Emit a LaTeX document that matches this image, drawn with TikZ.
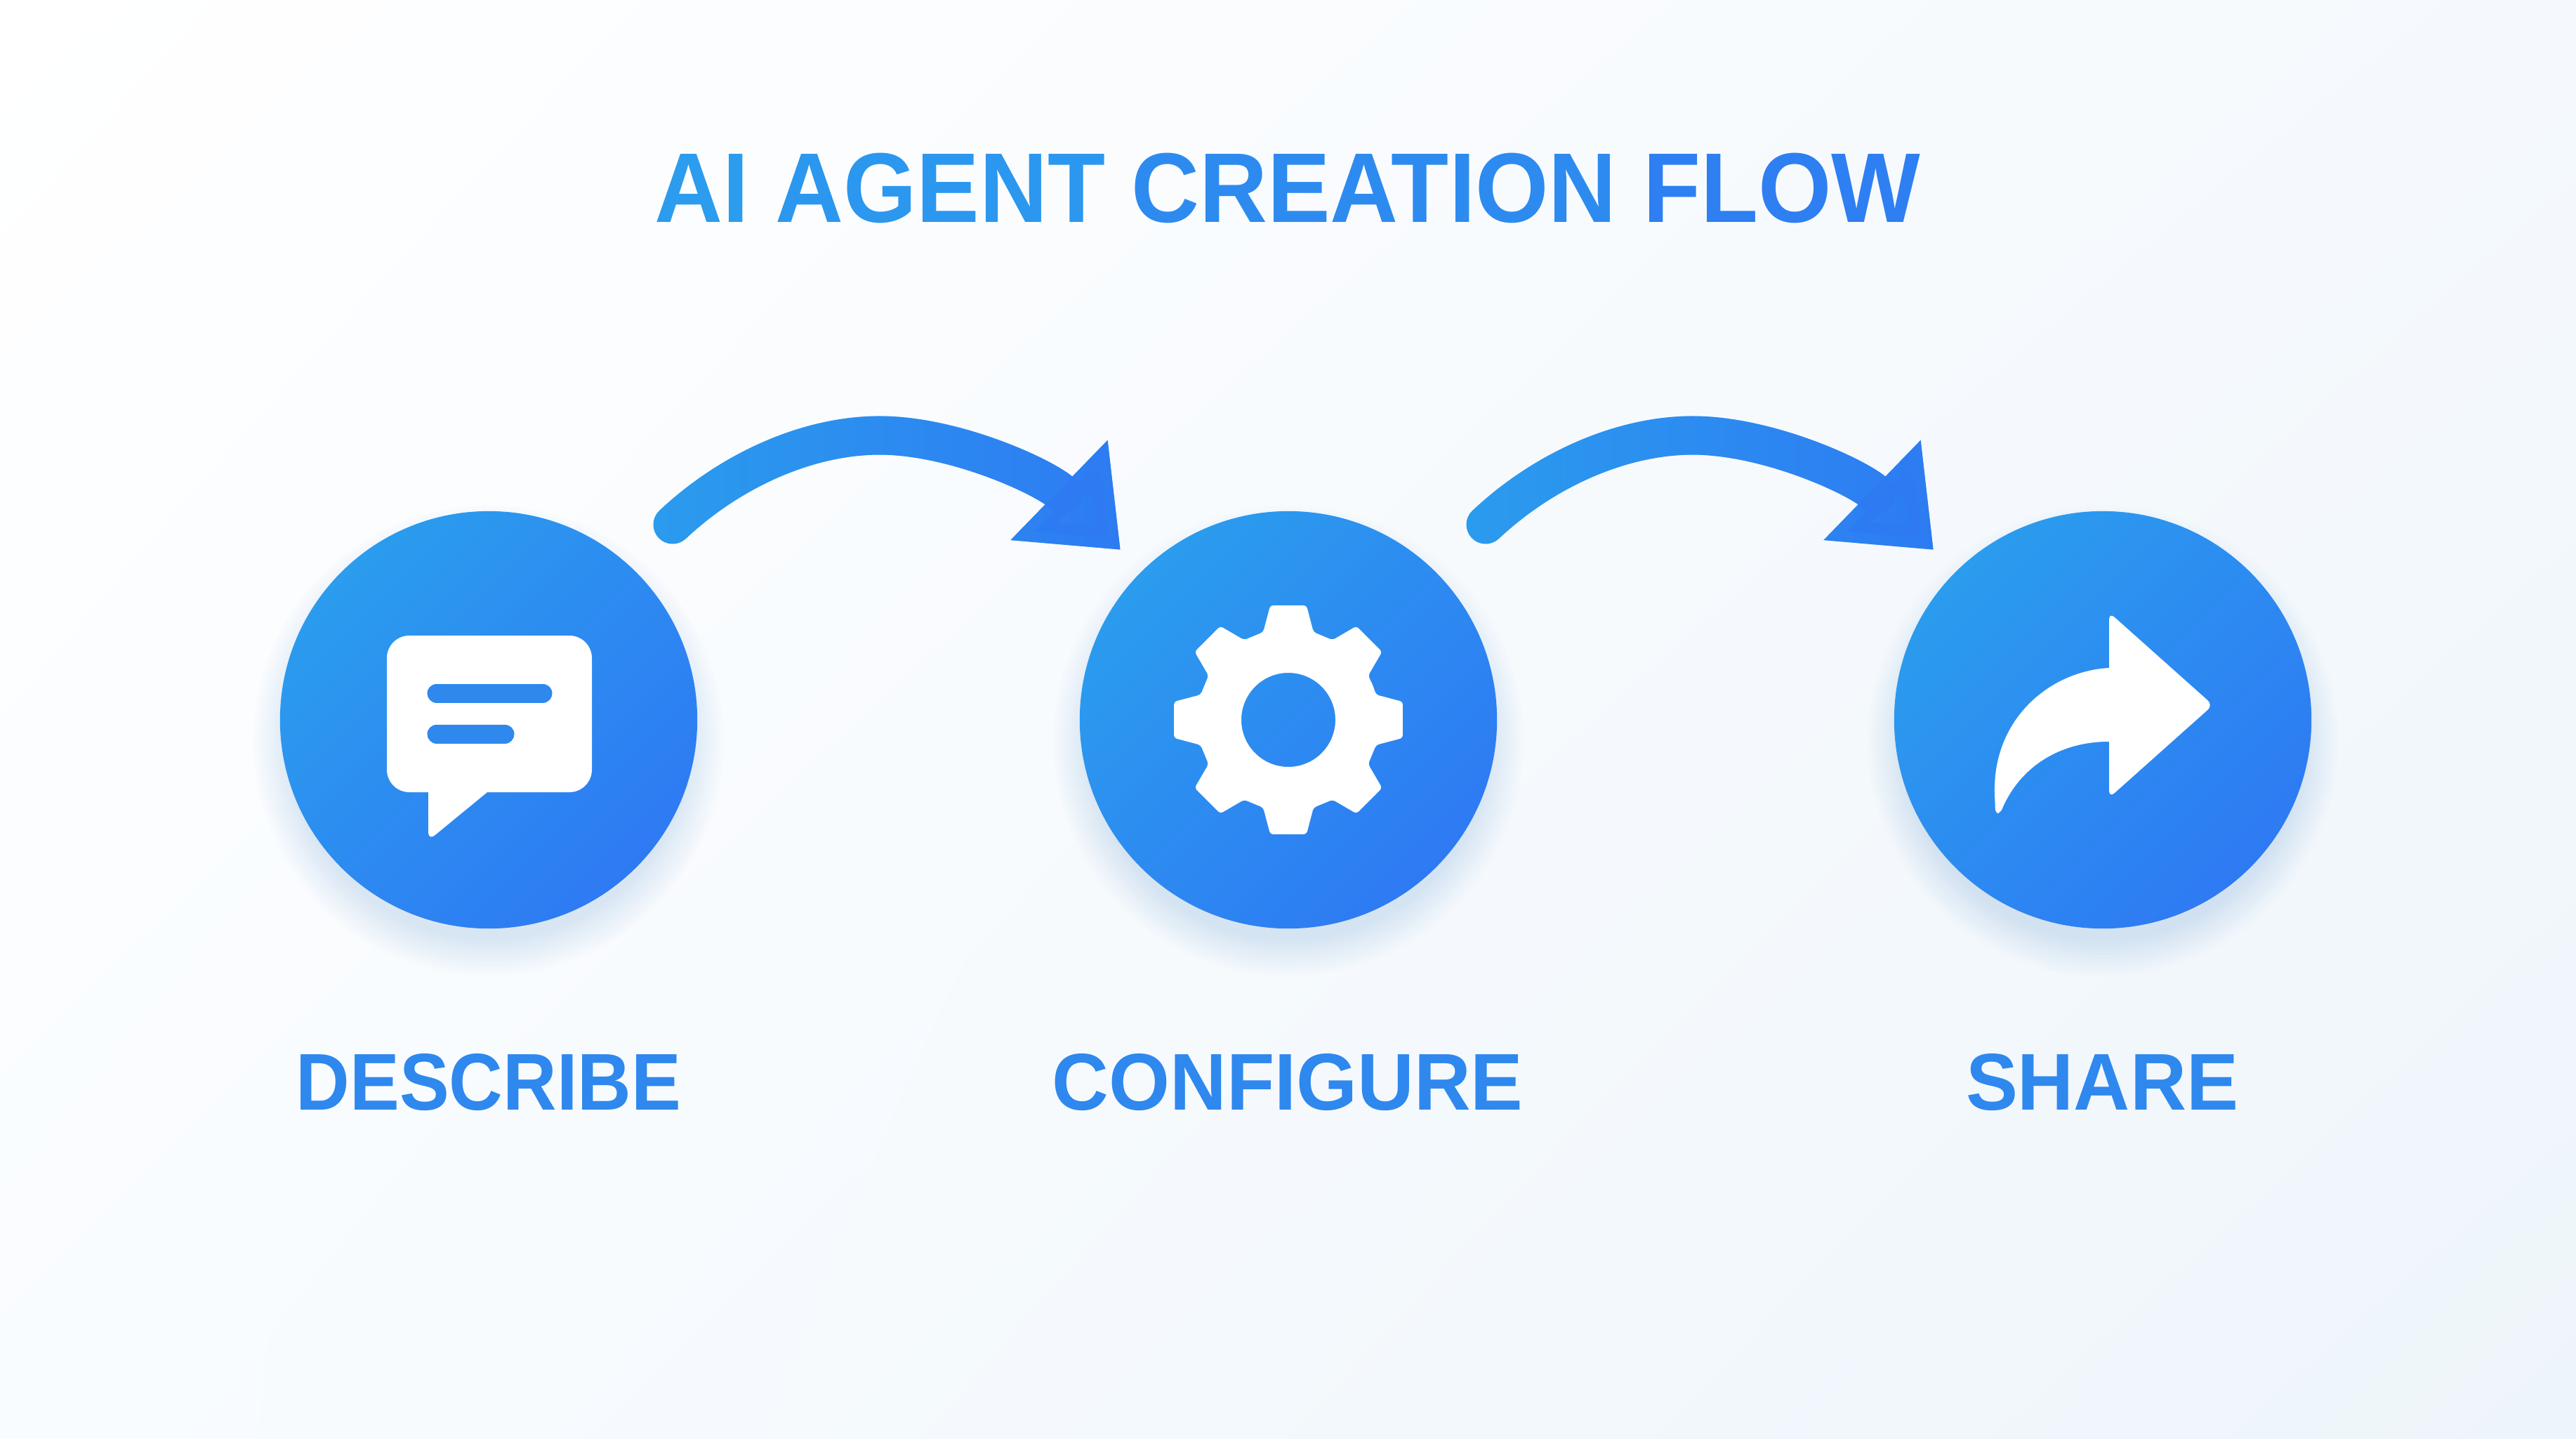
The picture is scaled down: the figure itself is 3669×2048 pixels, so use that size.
\documentclass[tikz,border=0pt]{standalone}
\usepackage{graphicx}
\usepackage{fontspec}
\setmainfont{Liberation Sans}
\usetikzlibrary{arrows.meta,fadings,shadings}

\definecolor{flowlight}{HTML}{2B9CEE}
\definecolor{flowdeep}{HTML}{2E7AF3}
\definecolor{flowmid}{HTML}{2E88EE}
\definecolor{flowshadow}{HTML}{2A6FC8}
\definecolor{flowbga}{HTML}{F9FCFF}
\definecolor{flowbgb}{HTML}{F5F9FD}
\definecolor{flowbgc}{HTML}{EEF5FA}
\tikzset{
  stepdisc/.style={circle,minimum size=5.94cm,inner sep=0pt,shading=axis,left color=flowlight,right color=flowdeep,shading angle=45},
  stepglow/.style={fill=flowshadow,opacity=0.01},
  steplabel/.style={text=flowmid,font=\bfseries\fontsize{32.6}{33}\selectfont,inner sep=0pt},
  flowline/.style={line width=0.55cm,line cap=round,-{Triangle[length=1.22cm,width=1.9cm]}},
  iconshape/.style={fill=white},
  iconbar/.style={line width=0.27cm,line cap=round,draw=flowmid}
}

\begin{document}
\begin{tikzpicture}[x=0.01cm,y=-0.01cm]
    \useasboundingbox (0,0) rectangle (3669,2048);
    \shade[upper left=white,upper right=flowbgb,lower left=flowbga,lower right=flowbgc] (0,0) rectangle (3669,2048);
    \node (title) at (1834,268) [inner sep=0pt,font=\bfseries\fontsize{40.1}{41}\selectfont] {\scalebox{0.952}[1]{\textcolor{flowlight}{AI} \textcolor{flowlight!85!flowdeep}{AGENT} \textcolor{flowlight!50!flowdeep}{CREATION} \textcolor{flowlight!15!flowdeep}{FLOW}}};
    \foreach \x in {696,1835,2995}
      \foreach \r in {285,290,...,335}
        \fill [stepglow] (\x,1055) circle [radius=\r];
    \node (describe) at (696,1025) [stepdisc] {};
    \node (configure) at (1835,1025) [stepdisc] {};
    \node (share) at (2995,1025) [stepdisc] {};
    \node (describelabel) at (696,1541) [steplabel] {\scalebox{0.926}[1]{DESCRIBE}};
    \node (configurelabel) at (1834,1541) [steplabel] {\scalebox{0.975}[1]{CONFIGURE}};
    \node (sharelabel) at (2994,1541) [steplabel] {\scalebox{0.967}[1]{SHARE}};
    \fill [iconshape] (694,1128) [rounded corners=0.32cm] -- (843,1128) -- (843,905) -- (551,905) -- (551,1128) [sharp corners] -- (610,1128) [rounded corners=0.12cm] -- (610,1197) [sharp corners] -- cycle;
    \draw [iconbar] (622,987) -- (773,987);
    \draw [iconbar] (622,1045) -- (719,1045);
    \begin{scope}[shift={(configure.center)}]
      \fill [iconshape,even odd rule,rounded corners=0.04cm] (-22.5:130) \foreach \a in {0,45,...,315} { -- (\a-16:130) -- (\a-9:165) -- (\a+9:165) -- (\a+16:130) } -- cycle (0,0) [sharp corners] circle [radius=67];
    \end{scope}
    \fill [iconshape] (3004,951) .. controls (2918,956) and (2838,1025) .. (2841,1130) [rounded corners=0.05cm] -- (2842,1158) -- (2849,1158) [sharp corners] .. controls (2875,1095) and (2930,1056) .. (3004,1056) [rounded corners=0.1cm] -- (3004,1136) -- (3152,1004) -- (3004,872) [sharp corners] -- cycle;
    \coordinate (startone) at (958,747);
    \coordinate (peakone) at (1253,620);
    \coordinate (tipone) at (1596,783);
    \coordinate (starttwo) at (2116,747);
    \coordinate (peaktwo) at (2411,620);
    \coordinate (tiptwo) at (2754,783);
    \draw [flowline,draw=flowlight] (startone) .. controls +(82,-77) and +(-103,0) .. (peakone) .. controls +(107,0) and +(-106,-103) .. (tipone);
    \draw [flowline,draw=flowdeep,path fading=west] (startone) .. controls +(82,-77) and +(-103,0) .. (peakone) .. controls +(107,0) and +(-106,-103) .. (tipone);
    \draw [flowline,draw=flowlight] (starttwo) .. controls +(82,-77) and +(-103,0) .. (peaktwo) .. controls +(107,0) and +(-106,-103) .. (tiptwo);
    \draw [flowline,draw=flowdeep,path fading=west] (starttwo) .. controls +(82,-77) and +(-103,0) .. (peaktwo) .. controls +(107,0) and +(-106,-103) .. (tiptwo);
\end{tikzpicture}
\end{document}
